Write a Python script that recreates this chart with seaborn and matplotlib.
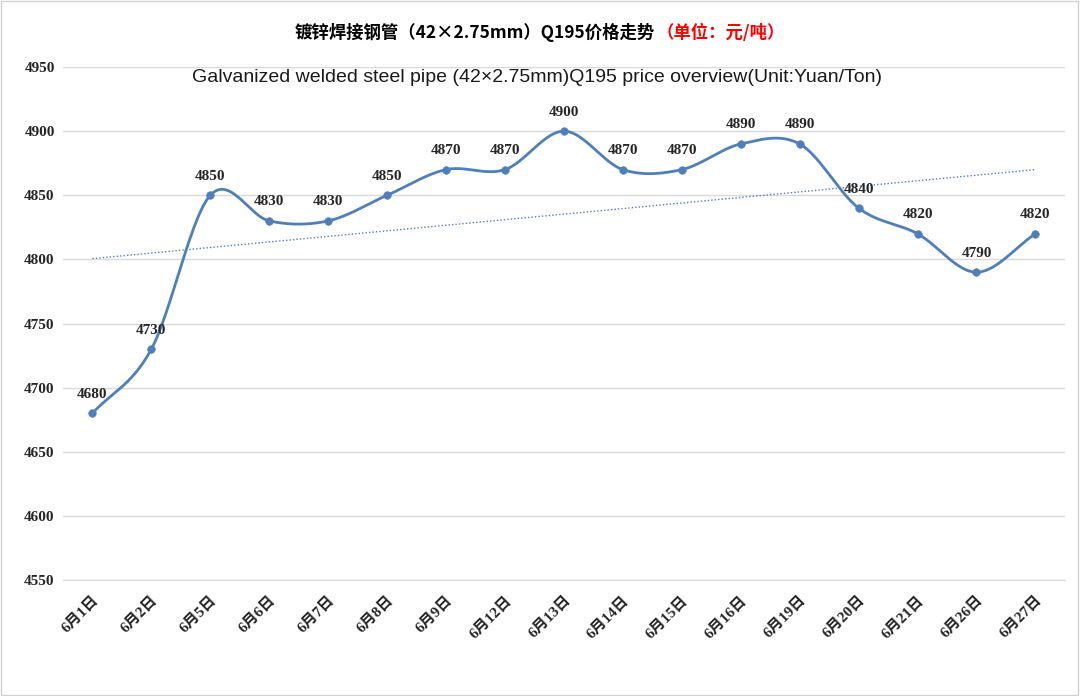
import numpy as np
import pandas as pd
import matplotlib.pyplot as plt
import seaborn as sns

dates = ['6月1日', '6月2日', '6月5日', '6月6日', '6月7日', '6月8日', '6月9日', '6月12日',
         '6月13日', '6月14日', '6月15日', '6月16日', '6月19日', '6月20日', '6月21日',
         '6月26日', '6月27日']
prices = [4680, 4730, 4850, 4830, 4830, 4850, 4870, 4870, 4900, 4870, 4870, 4890,
          4890, 4840, 4820, 4790, 4820]
y_ticks = [4550, 4600, 4650, 4700, 4750, 4800, 4850, 4900, 4950]

title_cn = '镀锌焊接钢管（42×2.75mm）Q195价格走势'
title_unit = '（单位：元/吨）'
subtitle = 'Galvanized welded steel pipe (42×2.75mm)Q195 price overview(Unit:Yuan/Ton)'

df = pd.DataFrame({'x': np.arange(len(dates)), 'price': prices})

line_color = '#4F7FBA'
serif_cjk = ['Liberation Serif', 'Noto Sans CJK SC']

sns.set_style('white')
plt.rcParams['font.family'] = ['Noto Sans CJK SC', 'DejaVu Sans']

fig = plt.figure(figsize=(10.8, 6.96), dpi=100)
ax = fig.add_axes([0.0583, 0.1667, 0.9277, 0.737])

# smooth curve like Excel (Catmull-Rom through the points)
xs = df['x'].to_numpy(dtype=float)
ys = df['price'].to_numpy(dtype=float)
px = np.concatenate([[2 * xs[0] - xs[1]], xs, [2 * xs[-1] - xs[-2]]])
py = np.concatenate([[2 * ys[0] - ys[1]], ys, [2 * ys[-1] - ys[-2]]])
cx, cy = [], []
t = np.linspace(0, 1, 30)
for i in range(1, len(px) - 2):
    p0, p1, p2, p3 = py[i - 1], py[i], py[i + 1], py[i + 2]
    q0, q1, q2, q3 = px[i - 1], px[i], px[i + 1], px[i + 2]
    cy.append(0.5 * ((2 * p1) + (-p0 + p2) * t + (2 * p0 - 5 * p1 + 4 * p2 - p3) * t ** 2
                     + (-p0 + 3 * p1 - 3 * p2 + p3) * t ** 3))
    cx.append(0.5 * ((2 * q1) + (-q0 + q2) * t + (2 * q0 - 5 * q1 + 4 * q2 - q3) * t ** 2
                     + (-q0 + 3 * q1 - 3 * q2 + q3) * t ** 3))
ax.plot(np.concatenate(cx), np.concatenate(cy), color=line_color, lw=2, zorder=3)

sns.scatterplot(data=df, x='x', y='price', ax=ax, color=line_color, s=30,
                edgecolor=line_color, zorder=4, legend=False)

# linear trend line
sns.regplot(data=df, x='x', y='price', ax=ax, scatter=False, ci=None,
            line_kws={'color': '#4F7FBA', 'lw': 1, 'ls': (0, (1, 1.5))})

for xi, yi in zip(df['x'], df['price']):
    ax.annotate(str(yi), (xi, yi), xytext=(0, 9), textcoords='offset points',
                ha='center', va='bottom', fontsize=11, fontweight='bold',
                family='Liberation Serif', zorder=5)

ax.set_xlim(-0.5, len(dates) - 0.5)
ax.set_ylim(4550, 4950)
ax.set_yticks(y_ticks)
ax.set_yticklabels([str(v) for v in y_ticks], fontsize=11, fontweight='bold',
                   family='Liberation Serif')
ax.yaxis.grid(True, color='#D9D9D9', lw=1)
ax.tick_params(axis='y', length=0, pad=6)

ax.set_xticks(df['x'])
ax.set_xticklabels(dates, rotation=45, ha='right', rotation_mode='anchor',
                   fontsize=11, fontweight='bold', family=serif_cjk)
ax.tick_params(axis='x', length=0, pad=10)
ax.set_xticks(np.arange(-0.5, len(dates), 1), minor=True)
ax.tick_params(axis='x', which='minor', length=5, color='#D9D9D9', width=1, direction='out')
ax.set_xlabel('')
ax.set_ylabel('')

for side in ['top', 'right', 'left']:
    ax.spines[side].set_visible(False)
ax.spines['bottom'].set_color('#D9D9D9')

fig.text(0.606, 0.953, title_cn, ha='right', va='center', fontsize=12.5,
         fontweight='bold', color='black')
fig.text(0.608, 0.953, title_unit, ha='left', va='center', fontsize=12.5,
         fontweight='bold', color='#FF0000')
fig.text(0.497, 0.889, subtitle, ha='center', va='center', fontsize=14,
         family='Liberation Sans', color='#1a1a1a')

fig.patches.append(plt.Rectangle((0.001, 0.002), 0.997, 0.996, transform=fig.transFigure,
                                 fill=False, edgecolor='#D0D0D0', lw=1))

fig.savefig('out.png', dpi=100)
